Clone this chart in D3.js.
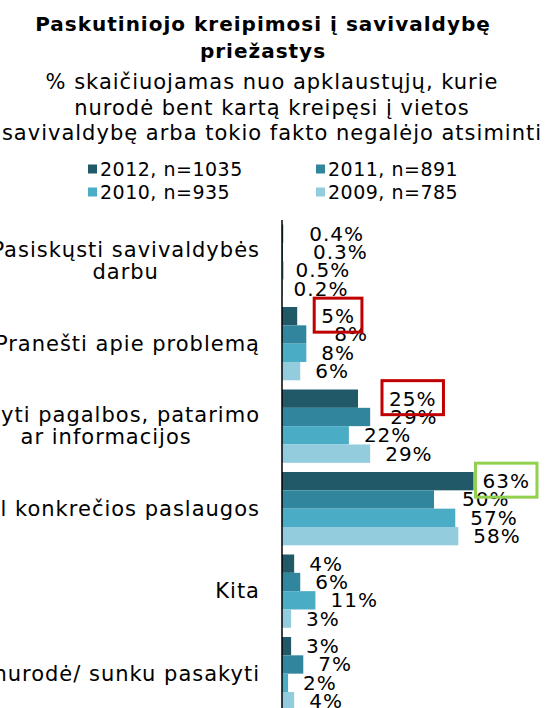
<!DOCTYPE html>
<html>
<head>
<meta charset="utf-8">
<script src="https://cdn.jsdelivr.net/npm/d3@7"></script>
<style>
  body { margin: 0; background: #fff; overflow: hidden; }
  svg { display: block; font-family: Verdana, "DejaVu Sans", sans-serif; }
</style>
</head>
<body>
<div id="chart"></div>
<script>
// category labels (one entry per line of the label)
const categoryLabels = [
  ["Pasiskųsti savivaldybės", "darbu"],
  ["Pranešti apie problemą"],
  ["Prašyti pagalbos, patarimo", "ar informacijos"],
  ["Dėl konkrečios paslaugos"],
  ["Kita"],
  ["Nenurodė/ sunku pasakyti"]
];

const seriesNames = ["2012, n=1035", "2011, n=891", "2010, n=935", "2009, n=785"];

// values in %
const values2012 = [0.4, 5, 25, 63, 4, 3];
const values2011 = [0.3, 8, 29, 50, 6, 7];
const values2010 = [0.5, 8, 22, 57, 11, 2];
const values2009 = [0.2, 6, 29, 58, 3, 4];

const seriesValues = [values2012, values2011, values2010, values2009];
const colors = ["#215968", "#31859C", "#4BACC6", "#93CDDD"];

const width = 550, height = 708;
const axisX = 282;

const svg = d3.select("#chart").append("svg")
  .attr("width", width)
  .attr("height", height);

// Title
const title = svg.append("text")
  .attr("text-anchor", "middle")
  .style("font-weight", "bold")
  .style("font-size", "20px")
  .style("letter-spacing", "1px")
  .attr("fill", "#000");
title.append("tspan").attr("x", 263).attr("y", 31).text("Paskutiniojo  kreipimosi  į savivaldybę");
title.append("tspan").attr("x", 263).attr("y", 58).text("priežastys");

const sub = svg.append("text")
  .attr("text-anchor", "middle")
  .style("font-size", "21px")
  .style("letter-spacing", "1px")
  .attr("fill", "#000");
["% skaičiuojamas nuo apklaustųjų, kurie",
 "nurodė bent kartą kreipęsi į vietos",
 "savivaldybę arba tokio fakto negalėjo atsiminti"].forEach((t, i) => {
  sub.append("tspan").attr("x", 272).attr("y", 89 + i * 25.5).text(t);
});

// Legend
const legendPos = [[88, 169], [316, 169], [88, 192], [316, 192]];
seriesNames.forEach((name, i) => {
  const g = svg.append("g").attr("transform", `translate(${legendPos[i][0]},${legendPos[i][1]})`);
  g.append("rect").attr("x", 0).attr("y", -4.5).attr("width", 9).attr("height", 9).attr("fill", colors[i]);
  g.append("text").attr("x", 12).attr("y", 7)
    .style("font-size", "19px").style("letter-spacing", "0.5px").text(name);
});

// Scales
const x = d3.scaleLinear().domain([0, 100]).range([axisX, axisX + 304]);

const y = d3.scaleBand()
  .domain(d3.range(categoryLabels.length))
  .range([220, 220 + 82.5 * categoryLabels.length]);

const ySub = d3.scaleBand()
  .domain(d3.range(seriesNames.length))
  .range([4.5, 77.8]);

// manual label shifts (Excel labels that were dragged)
const labelShift = { "0-0": 11, "0-1": 15, "0-2": -3, "0-3": -4, "1-0": 9, "1-1": 13,
                     "2-0": 16, "2-1": 5, "3-0": -6, "3-1": 13 };

const groups = svg.selectAll("g.cat")
  .data(categoryLabels)
  .join("g")
  .attr("class", "cat")
  .attr("transform", (d, i) => `translate(0,${y(i)})`);

groups.each(function (lines, ci) {
  const g = d3.select(this);
  seriesValues.forEach((vals, si) => {
    const v = vals[ci];
    g.append("rect")
      .attr("x", x(0))
      .attr("y", ySub(si))
      .attr("width", x(v) - x(0))
      .attr("height", ySub.bandwidth())
      .attr("fill", colors[si]);
  });
});

// Value labels
const labels = [];
groups.each(function (lines, ci) {
  const g = d3.select(this);
  seriesValues.forEach((vals, si) => {
    const v = vals[ci];
    const shift = labelShift[`${ci}-${si}`] || 0;
    const t = g.append("text")
      .attr("x", x(v) + 15 + shift)
      .attr("y", ySub(si) + ySub.bandwidth() / 2 + 7)
      .style("font-size", "20px")
      .style("letter-spacing", "1px")
      .attr("fill", "#000")
      .text((v < 1 ? d3.format(".1f")(v) : d3.format("d")(v)) + "%");
    labels.push({ ci, si, node: t.node(), g });
  });
});

// Highlight boxes around selected 2012 labels
const highlights = [[1, 0, "#C00000"], [2, 0, "#C00000"], [3, 0, "#92D050"]];
highlights.forEach(([ci, si, col]) => {
  const lab = labels.find(l => l.ci === ci && l.si === si);
  const bb = lab.node.getBBox();
  lab.g.append("rect")
    .attr("x", bb.x - 7)
    .attr("y", ySub(si) + ySub.bandwidth() / 2 - 18)
    .attr("width", bb.width + 14)
    .attr("height", 34)
    .attr("fill", "none")
    .attr("stroke", col)
    .attr("stroke-width", 3);
});

// Category labels
groups.each(function (lines, ci) {
  const g = d3.select(this);
  const center = y.bandwidth() / 2;
  const t = g.append("text")
    .attr("text-anchor", "middle")
    .style("font-size", "21px")
    .style("letter-spacing", "1px")
    .attr("fill", "#000");
  const spans = lines.map((line, li) => t.append("tspan")
    .attr("y", center + 7 - (lines.length - 1) * 11 + li * 22)
    .text(line));
  const maxW = d3.max(spans, s => s.node().getComputedTextLength());
  spans.forEach(s => s.attr("x", 260 - maxW / 2));
});

// Vertical axis line
svg.append("line")
  .attr("x1", axisX).attr("x2", axisX)
  .attr("y1", 220).attr("y2", height)
  .attr("stroke", "#000")
  .attr("stroke-width", 1.5);
</script>
</body>
</html>
